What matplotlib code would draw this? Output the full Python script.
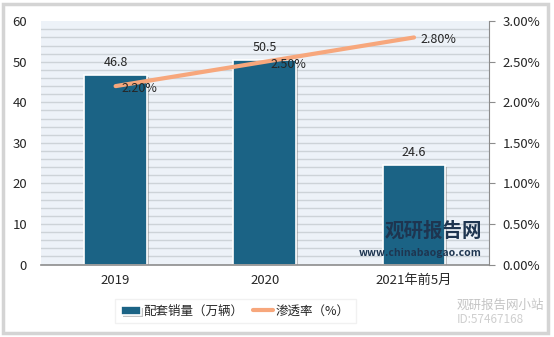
import matplotlib
matplotlib.use('Agg')
import matplotlib.pyplot as plt
import matplotlib.patheffects as pe
from matplotlib.patches import Rectangle
from matplotlib.ticker import FuncFormatter

plt.rcParams['font.family'] = ['Noto Sans CJK SC', 'DejaVu Sans']

categories = ['2019', '2020', '2021年前5月']
sales = [46.8, 50.5, 24.6]
rate = [2.20, 2.50, 2.80]
bar_name = '配套销量（万辆）'
line_name = '渗透率（%）'

bar_color = '#1b6385'
line_color = '#f7a77c'
text_color = '#262626'

fig = plt.figure(figsize=(5.54, 3.37), dpi=100)
fig.patch.set_facecolor('white')
fig.add_artist(Rectangle((0.006, 0.012), 0.984, 0.975, transform=fig.transFigure,
                         fill=False, edgecolor='#d4d4d4', linewidth=2.5))

ax = fig.add_axes([0.074, 0.215, 0.808, 0.722])
ax.set_facecolor('#edf2f8')
x = range(len(categories))

# background stripes
for v in range(2, 60, 2):
    ax.axhline(v, color='#cdd3d8', linewidth=1.0, zorder=0)

bars = ax.bar(x, sales, width=0.42, color=bar_color, edgecolor='white', linewidth=1.2,
              zorder=2, label=bar_name,
              path_effects=[pe.SimplePatchShadow(offset=(1.5, -1.5), shadow_rgbFace='#888888', alpha=0.5),
                            pe.Normal()])
for xi, v in zip(x, sales):
    ax.text(xi, v + 1.5, f'{v}', ha='center', va='bottom', fontsize=9, color=text_color, zorder=5)

ax.set_xlim(-0.5, 2.5)
ax.set_ylim(0, 60)
ax.set_yticks(range(0, 61, 10))
ax.set_xticks(list(x))
ax.set_xticklabels(categories, fontsize=9.5, color=text_color)
ax.tick_params(axis='y', length=0, labelsize=9.5, labelcolor=text_color, pad=10)
ax.tick_params(axis='x', length=0, pad=7)
for s in ['top', 'left', 'right']:
    ax.spines[s].set_visible(False)
ax.spines['bottom'].set_color('#8c8c8c')
ax.spines['bottom'].set_linewidth(1.2)

ax2 = ax.twinx()
ax2.plot(list(x), rate, color=line_color, linewidth=3, solid_capstyle='round', zorder=4, label=line_name)
for xi, v in zip(x, rate):
    ax2.text(xi + 0.04, v - 0.03, f'{v:.2f}%', ha='left', va='center', fontsize=9, color=text_color, zorder=5)
ax2.set_ylim(0, 3.0)
ax2.set_yticks([i * 0.5 for i in range(7)])
ax2.yaxis.set_major_formatter(FuncFormatter(lambda v, p: f'{v:.2f}%'))
ax2.tick_params(axis='y', direction='out', length=4, color='#8c8c8c', labelsize=9.5,
                labelcolor=text_color, pad=6)
for s in ['top', 'left', 'bottom']:
    ax2.spines[s].set_visible(False)
ax2.spines['right'].set_color('#8c8c8c')

# legend
handles = [bars, ax2.get_lines()[0]]
leg = fig.legend(handles, [bar_name, line_name], loc='center', bbox_to_anchor=(0.425, 0.077),
                 ncol=2, frameon=True, fontsize=9, handlelength=1.6, handletextpad=0.2,
                 columnspacing=0.8, fancybox=False, edgecolor='#eeeeee', borderpad=0.45)
for t in leg.get_texts():
    t.set_color(text_color)

# watermarks
ax.text(0.985, 0.1, '观研报告网', transform=ax.transAxes, ha='right', va='bottom',
        fontsize=14, fontweight='bold', color='#1e3550', zorder=6)
ax.text(0.985, 0.07, 'www.chinabaogao.com', transform=ax.transAxes, ha='right', va='top',
        fontsize=7.5, fontweight='bold', color='#1e3550', zorder=6)
fig.text(0.825, 0.095, '观研报告网小站', ha='left', va='center', fontsize=9, color='#c4c4c4')
fig.text(0.825, 0.052, 'ID:57467168', ha='left', va='center', fontsize=8.5, color='#cfcfcf')

fig.savefig('out.png', dpi=100, facecolor='white')
